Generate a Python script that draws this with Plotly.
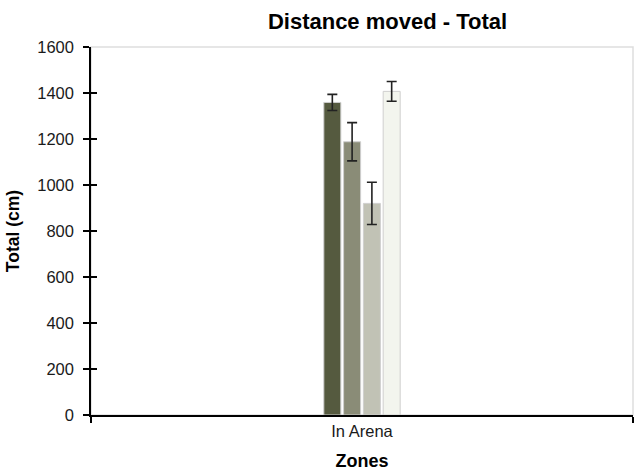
import plotly.graph_objects as go

# Data: distance moved in the arena, four groups
zones = ["In Arena"]
group_names = ["Group 1", "Group 2", "Group 3", "Group 4"]
group_means = [1359, 1188, 920, 1407]
group_errors = [35, 83, 92, 43]
bar_colors = ["#555a3f", "#8a8c77", "#c1c2b5", "#f3f5ee"]
y_ticks = [0, 200, 400, 600, 800, 1000, 1200, 1400, 1600]

FONT = "Liberation Sans, Arial, sans-serif"

fig = go.Figure()
for name, mean, err, color in zip(group_names, group_means, group_errors, bar_colors):
    fig.add_trace(go.Bar(
        x=zones, y=[mean], name=name,
        marker=dict(color=color, line=dict(color="#cfcfcf", width=1)),
        error_y=dict(type="data", array=[err], color="#222222",
                     thickness=1.6, width=5),
    ))

# helper trace for the inner half of the crossing tick marks
fig.add_trace(go.Scatter(x=[0], y=[0], xaxis="x2", yaxis="y2",
                         mode="markers", marker=dict(opacity=0),
                         hoverinfo="skip", showlegend=False))

fig.update_layout(
    width=641, height=476,
    margin=dict(l=91, r=8, t=47, b=59),
    paper_bgcolor="white", plot_bgcolor="white",
    showlegend=False,
    barmode="group", bargap=0.854, bargroupgap=0.14,
    font=dict(family=FONT, color="#1a1a1a", size=16),
    title=dict(text="<b>Distance moved - Total</b>",
               font=dict(family=FONT, size=22, color="#000000"),
               x=387.5 / 641, xref="container", xanchor="center",
               y=1 - 21 / 476, yref="container", yanchor="middle"),
    xaxis=dict(
        type="category", range=[-0.5, 0.5],
        showline=True, linecolor="#000000", linewidth=1.5,
        ticks="outside", ticklen=6, tickcolor="#000000", tickwidth=1.5,
        tickson="boundaries",
        showgrid=False, zeroline=False,
        tickfont=dict(family=FONT, size=16.5, color="#1a1a1a"),
        title=dict(text="<b>Zones</b>", standoff=16,
                   font=dict(family=FONT, size=18, color="#000000")),
    ),
    yaxis=dict(
        range=[0, 1600], tickvals=y_ticks,
        showline=True, linecolor="#000000", linewidth=1.5,
        ticks="outside", ticklen=6, tickcolor="#000000", tickwidth=1.5,
        showgrid=False, zeroline=False,
        ticklabelstandoff=6,
        tickfont=dict(family=FONT, size=16.5, color="#1a1a1a"),
        title=dict(text="<b>Total (cm)</b>", standoff=13,
                   font=dict(family=FONT, size=17.5, color="#000000")),
    ),
    xaxis2=dict(
        overlaying="x", range=[-0.5, 0.5], tickvals=[-0.5, 0.5],
        ticks="inside", ticklen=6, tickcolor="#000000", tickwidth=1.5,
        showticklabels=False, showline=False, showgrid=False, zeroline=False,
    ),
    yaxis2=dict(
        overlaying="y", range=[0, 1600], tickvals=y_ticks,
        ticks="inside", ticklen=6, tickcolor="#000000", tickwidth=1.5,
        showticklabels=False, showline=False, showgrid=False, zeroline=False,
    ),
    shapes=[dict(type="rect", xref="paper", yref="paper",
                 x0=0, x1=1, y0=0, y1=1,
                 line=dict(color="#dedede", width=1.5), layer="below")],
)

fig.write_html("out.html")
